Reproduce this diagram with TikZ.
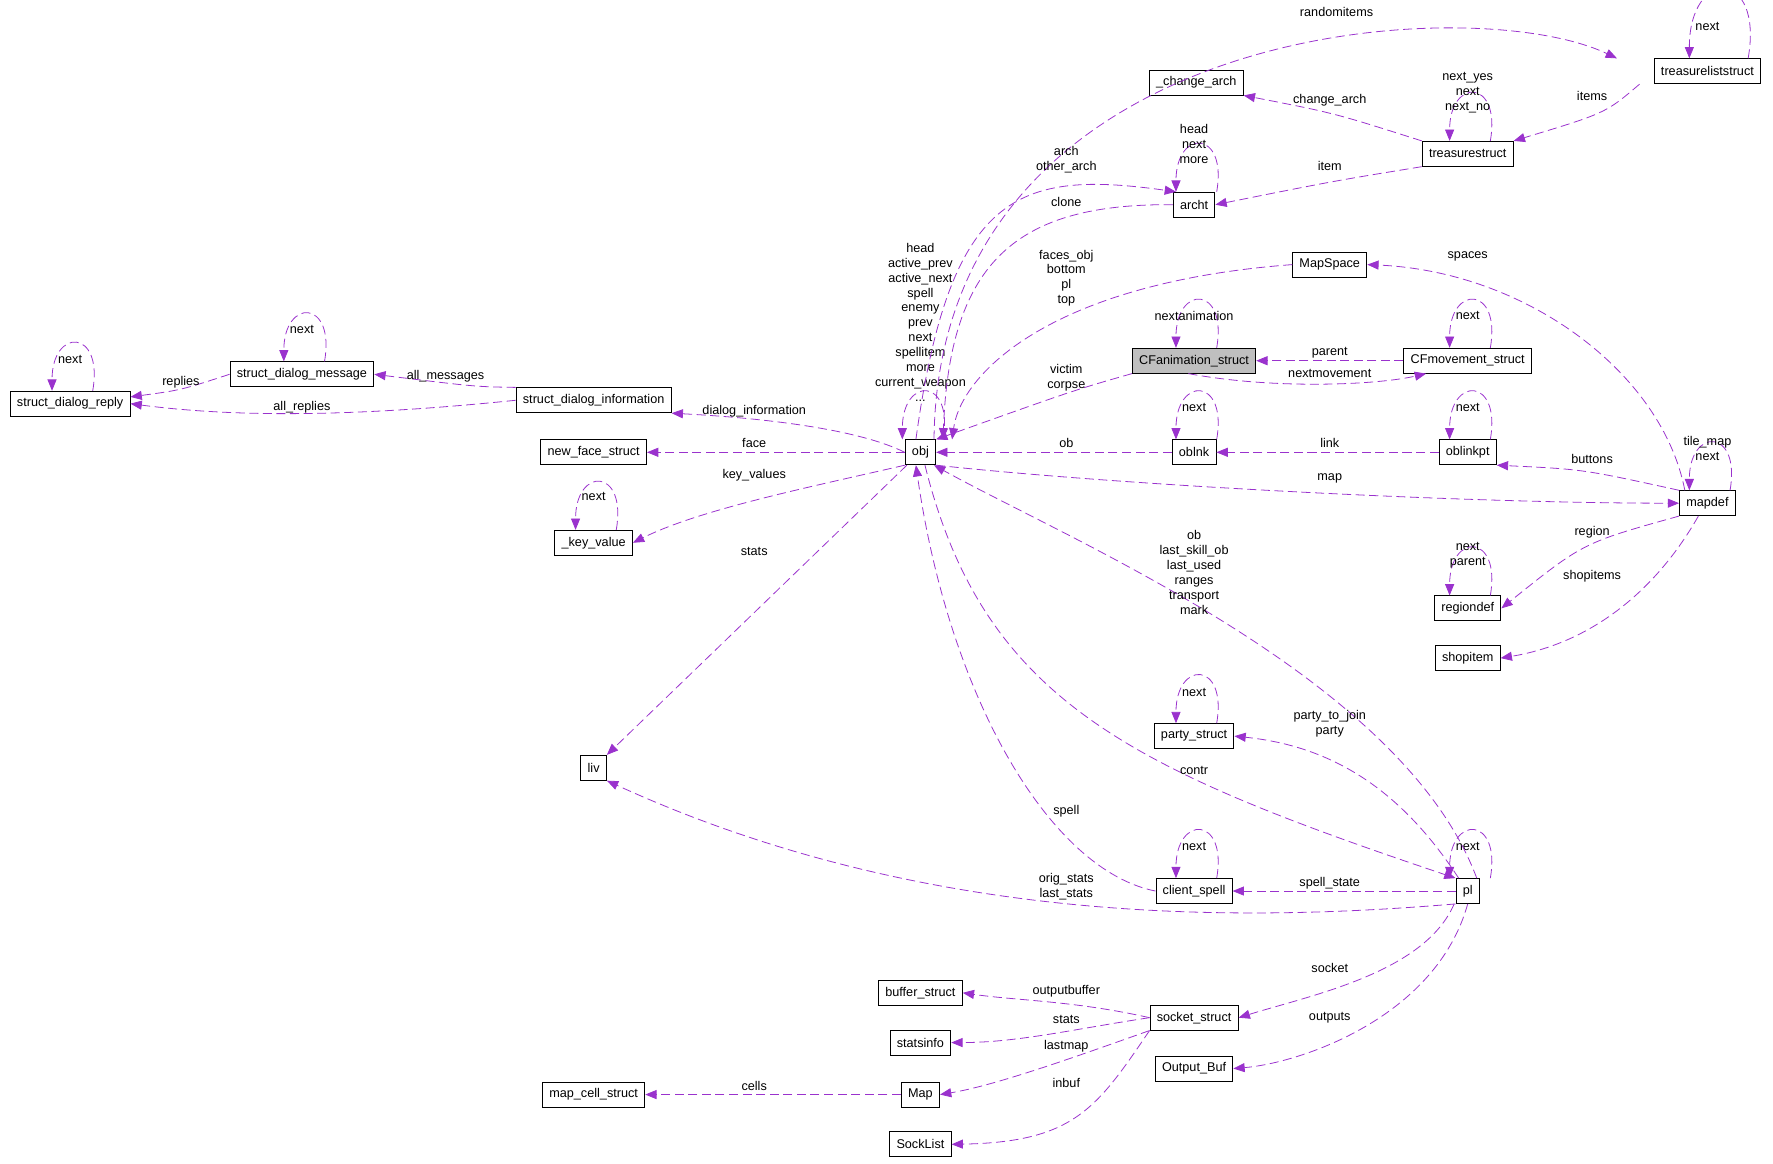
\documentclass[tikz,border=0pt]{standalone}
\usepackage{fontspec}
\setmainfont{Liberation Sans}
\usetikzlibrary{arrows.meta}
\definecolor{dep}{RGB}{154,50,205}

\begin{document}
\begin{tikzpicture}[
      x=0.5pt, y=-0.5pt,
      every node/.style={font=\fontsize{5.6}{6.6}\selectfont, inner sep=0.8pt},
      cls/.style={draw, thin, fill=white, minimum height=11pt, inner xsep=3pt, inner ysep=1pt},
      main/.style={cls, fill=black!25},
      lbl/.style={align=center},
      use/.style={draw=dep, dash pattern=on 4pt off 2pt, line width=0.35pt, -{Triangle[length=5pt,width=4pt]}, dep},
      self/.style={use, out=80, in=90, looseness=4}
    ]
    \useasboundingbox (0,0) rectangle (1568,1029);

    % the classes
    \node[cls] (tlist) at (1510,63) {treasureliststruct};
    \node[cls] (chg) at (1058,73) {\_change\_arch};
    \node[cls] (tstruct) at (1298,136) {treasurestruct};
    \node[cls] (archt) at (1056,181) {archt};
    \node[cls] (mspace) at (1176,234) {MapSpace};
    \node[main] (cfanim) at (1056,319) {CFanimation\_struct};
    \node[cls] (cfmove) at (1298,319) {CFmovement\_struct};
    \node[cls] (obj) at (814,400) {obj};
    \node[cls] (oblnk) at (1056,400) {oblnk};
    \node[cls] (oblpt) at (1298,400) {oblinkpt};
    \node[cls] (mapdef) at (1510,445) {mapdef};
    \node[cls] (region) at (1298,538) {regiondef};
    \node[cls] (shop) at (1298,582) {shopitem};
    \node[cls] (reply) at (62,357) {struct\_dialog\_reply};
    \node[cls] (msg) at (267,331) {struct\_dialog\_message};
    \node[cls] (info) at (525,354) {struct\_dialog\_information};
    \node[cls] (face) at (525,400) {new\_face\_struct};
    \node[cls] (keyval) at (525,480) {\_key\_value};
    \node[cls] (liv) at (525,679) {liv};
    \node[cls] (party) at (1056,651) {party\_struct};
    \node[cls] (cspell) at (1056,788) {client\_spell};
    \node[cls] (pl) at (1298,788) {pl};
    \node[cls] (buf) at (814,878) {buffer\_struct};
    \node[cls] (sock) at (1056,900) {socket\_struct};
    \node[cls] (stats) at (814,922) {statsinfo};
    \node[cls] (outbuf) at (1056,945) {Output\_Buf};
    \node[cls] (map) at (814,968) {Map};
    \node[cls] (cells) at (525,968) {map\_cell\_struct};
    \node[cls] (socklist) at (814,1012) {SockList};

    % self references
    \draw[self] ([xshift=18]tlist.north) to ([xshift=-8]tlist.north);
    \draw[self] ([xshift=10]tstruct.north) to ([xshift=-8]tstruct.north);
    \draw[self] ([xshift=10]archt.north) to ([xshift=-8]archt.north);
    \draw[self] ([xshift=10]cfanim.north) to ([xshift=-8]cfanim.north);
    \draw[self] ([xshift=10]cfmove.north) to ([xshift=-8]cfmove.north);
    \draw[self] ([xshift=10]obj.north) to ([xshift=-8]obj.north);
    \draw[self] ([xshift=10]oblnk.north) to ([xshift=-8]oblnk.north);
    \draw[self] ([xshift=10]oblpt.north) to ([xshift=-8]oblpt.north);
    \draw[self] ([xshift=10]mapdef.north) to ([xshift=-8]mapdef.north);
    \draw[self] ([xshift=10]region.north) to ([xshift=-8]region.north);
    \draw[self] ([xshift=10]msg.north) to ([xshift=-8]msg.north);
    \draw[self] ([xshift=10]reply.north) to ([xshift=-8]reply.north);
    \draw[self] ([xshift=10]keyval.north) to ([xshift=-8]keyval.north);
    \draw[self] ([xshift=10]party.north) to ([xshift=-8]party.north);
    \draw[self] ([xshift=10]cspell.north) to ([xshift=-8]cspell.north);
    \draw[self] ([xshift=10]pl.north) to ([xshift=-8]pl.north);
    \node[lbl] (l-tlist) at (1510,23) {next};
    \node[lbl] (l-tstruct) at (1298,82) {next\_yes\\next\\next\_no};
    \node[lbl] (l-archt) at (1056,127) {head\\next\\more};
    \node[lbl] (l-cfanim) at (1056,279) {nextanimation};
    \node[lbl] (l-cfmove) at (1298,279) {next};
    \node[lbl] (l-obj) at (814,285) {head\\active\_prev\\active\_next\\spell\\enemy\\prev\\next\\spellitem\\more\\current\_weapon\\...};
    \node[lbl] (l-oblnk) at (1056,360) {next};
    \node[lbl] (l-oblpt) at (1298,360) {next};
    \node[lbl] (l-mapdef) at (1510,397) {tile\_map\\next};
    \node[lbl] (l-region) at (1298,491) {next\\parent};
    \node[lbl] (l-msg) at (267,291) {next};
    \node[lbl] (l-reply) at (62,318) {next};
    \node[lbl] (l-keyval) at (525,439) {next};
    \node[lbl] (l-party) at (1056,612) {next};
    \node[lbl] (l-cspell) at (1056,749) {next};
    \node[lbl] (l-pl) at (1298,749) {next};

    % treasures and archetypes
    \draw[use] ([xshift=6]obj.north) .. controls (830,20) and (1300,-10) .. ([xshift=-40]tlist.north);
    \node[lbl] (l-rand) at (1182,11) {randomitems};
    \draw[use] (tstruct.north west) .. controls (1180,100) .. (chg.south east);
    \node[lbl] (l-chg) at (1176,89) {change\_arch};
    \draw[use] ([xshift=-30]tlist.south) .. controls (1420,100) .. (tstruct.north east);
    \node[lbl] (l-items) at (1408,85) {items};
    \draw[use] (tstruct.south west) .. controls (1180,160) .. (archt.east);
    \node[lbl] (l-item) at (1176,147) {item};
    \draw[use] ([xshift=-2]obj.north) .. controls (840,170) and (900,150) .. ([xshift=-8]archt.north);
    \node[lbl] (l-arch) at (943,141) {arch\\other\_arch};
    \draw[use] (archt.west) .. controls (900,180) and (840,230) .. ([xshift=10]obj.north);
    \node[lbl] (l-clone) at (943,179) {clone};
    \draw[use] (mspace.west) .. controls (930,250) and (850,330) .. ([xshift=14]obj.north);
    \node[lbl] (l-faces) at (943,246) {faces\_obj\\bottom\\pl\\top};
    \draw[use] ([xshift=-10]mapdef.north) .. controls (1470,330) and (1350,240) .. (mspace.east);
    \node[lbl] (l-spaces) at (1298,227) {spaces};

    % animation
    \draw[use] (cfmove.west) -- (cfanim.east);
    \node[lbl] (l-parent) at (1176,312) {parent};
    \draw[use] ([xshift=-30]cfanim.south east) .. controls (1130,345) and (1220,340) .. ([xshift=10]cfmove.south west);
    \node[lbl] (l-nextmove) at (1176,330) {nextmovement};
    \draw[use] (cfanim.south west) .. controls (950,345) .. (obj.north east);
    \node[lbl] (l-victim) at (943,334) {victim\\corpse};

    % object links and maps
    \draw[use] (oblnk.west) -- (obj.east);
    \node[lbl] (l-ob) at (943,392) {ob};
    \draw[use] (oblpt.west) -- (oblnk.east);
    \node[lbl] (l-link) at (1176,392) {link};
    \draw[use] (mapdef.north west) .. controls (1400,415) .. (oblpt.south east);
    \node[lbl] (l-buttons) at (1408,406) {buttons};
    \draw[use] (obj.south east) .. controls (1000,430) and (1300,445) .. (mapdef.west);
    \node[lbl] (l-map) at (1176,423) {map};
    \draw[use] (mapdef.south west) .. controls (1400,480) .. (region.east);
    \node[lbl] (l-region2) at (1408,471) {region};
    \draw[use] ([xshift=-4]mapdef.south) .. controls (1460,530) and (1400,570) .. (shop.east);
    \node[lbl] (l-shop) at (1408,510) {shopitems};

    % dialogs
    \draw[use] (obj.west) .. controls (760,380) and (680,370) .. (info.south east);
    \node[lbl] (l-dinfo) at (667,364) {dialog\_information};
    \draw[use] (info.north west) .. controls (420,342) .. (msg.east);
    \node[lbl] (l-allmsg) at (394,333) {all\_messages};
    \draw[use] (info.west) .. controls (300,370) and (200,368) .. (reply.east);
    \node[lbl] (l-allrep) at (267,360) {all\_replies};
    \draw[use] (msg.west) .. controls (160,345) .. ([yshift=3]reply.east);
    \node[lbl] (l-replies) at (160,338) {replies};

    % plain members of obj
    \draw[use] (obj.west) -- (face.east);
    \node[lbl] (l-face) at (667,392) {face};
    \draw[use] (obj.south west) .. controls (720,430) and (620,450) .. (keyval.east);
    \node[lbl] (l-keyval2) at (667,420) {key\_values};
    \draw[use] ([xshift=-6]obj.south) -- (liv.north east);
    \node[lbl] (l-stats) at (667,488) {stats};

    % player
    \draw[use] ([xshift=4]pl.north) .. controls (1240,600) and (950,480) .. ([xshift=6]obj.south);
    \node[lbl] (l-plob) at (1056,506) {ob\\last\_skill\_ob\\last\_used\\ranges\\transport\\mark};
    \draw[use] ([xshift=-4]pl.north) .. controls (1240,700) and (1180,660) .. (party.east);
    \node[lbl] (l-party2) at (1176,640) {party\_to\_join\\party};
    \draw[use] ([xshift=2]obj.south) .. controls (870,620) and (1000,680) .. (pl.north west);
    \node[lbl] (l-contr) at (1056,681) {contr};
    \draw[use] (cspell.west) .. controls (930,770) and (840,620) .. ([xshift=-2]obj.south);
    \node[lbl] (l-spell) at (943,717) {spell};
    \draw[use] (pl.west) -- (cspell.east);
    \node[lbl] (l-spst) at (1176,781) {spell\_state};
    \draw[use] (pl.south west) .. controls (1100,815) and (820,820) .. (liv.south east);
    \node[lbl] (l-orig) at (943,784) {orig\_stats\\last\_stats};
    \draw[use] ([xshift=-6]pl.south) .. controls (1260,860) and (1160,880) .. (sock.east);
    \node[lbl] (l-socket) at (1176,856) {socket};
    \draw[use] (pl.south) .. controls (1270,900) and (1150,940) .. (outbuf.east);
    \node[lbl] (l-outputs) at (1176,900) {outputs};

    % socket
    \draw[use] (sock.west) .. controls (950,885) and (900,885) .. (buf.east);
    \node[lbl] (l-outb) at (943,877) {outputbuffer};
    \draw[use] (sock.west) .. controls (950,910) and (900,922) .. (stats.east);
    \node[lbl] (l-sstats) at (943,902) {stats};
    \draw[use] (sock.south west) .. controls (950,935) and (880,960) .. (map.east);
    \node[lbl] (l-lastmap) at (943,925) {lastmap};
    \draw[use] (sock.south west) .. controls (970,980) and (950,1010) .. (socklist.east);
    \node[lbl] (l-inbuf) at (943,958) {inbuf};
    \draw[use] (map.west) -- (cells.east);
    \node[lbl] (l-cells) at (667,960) {cells};
\end{tikzpicture}
\end{document}
